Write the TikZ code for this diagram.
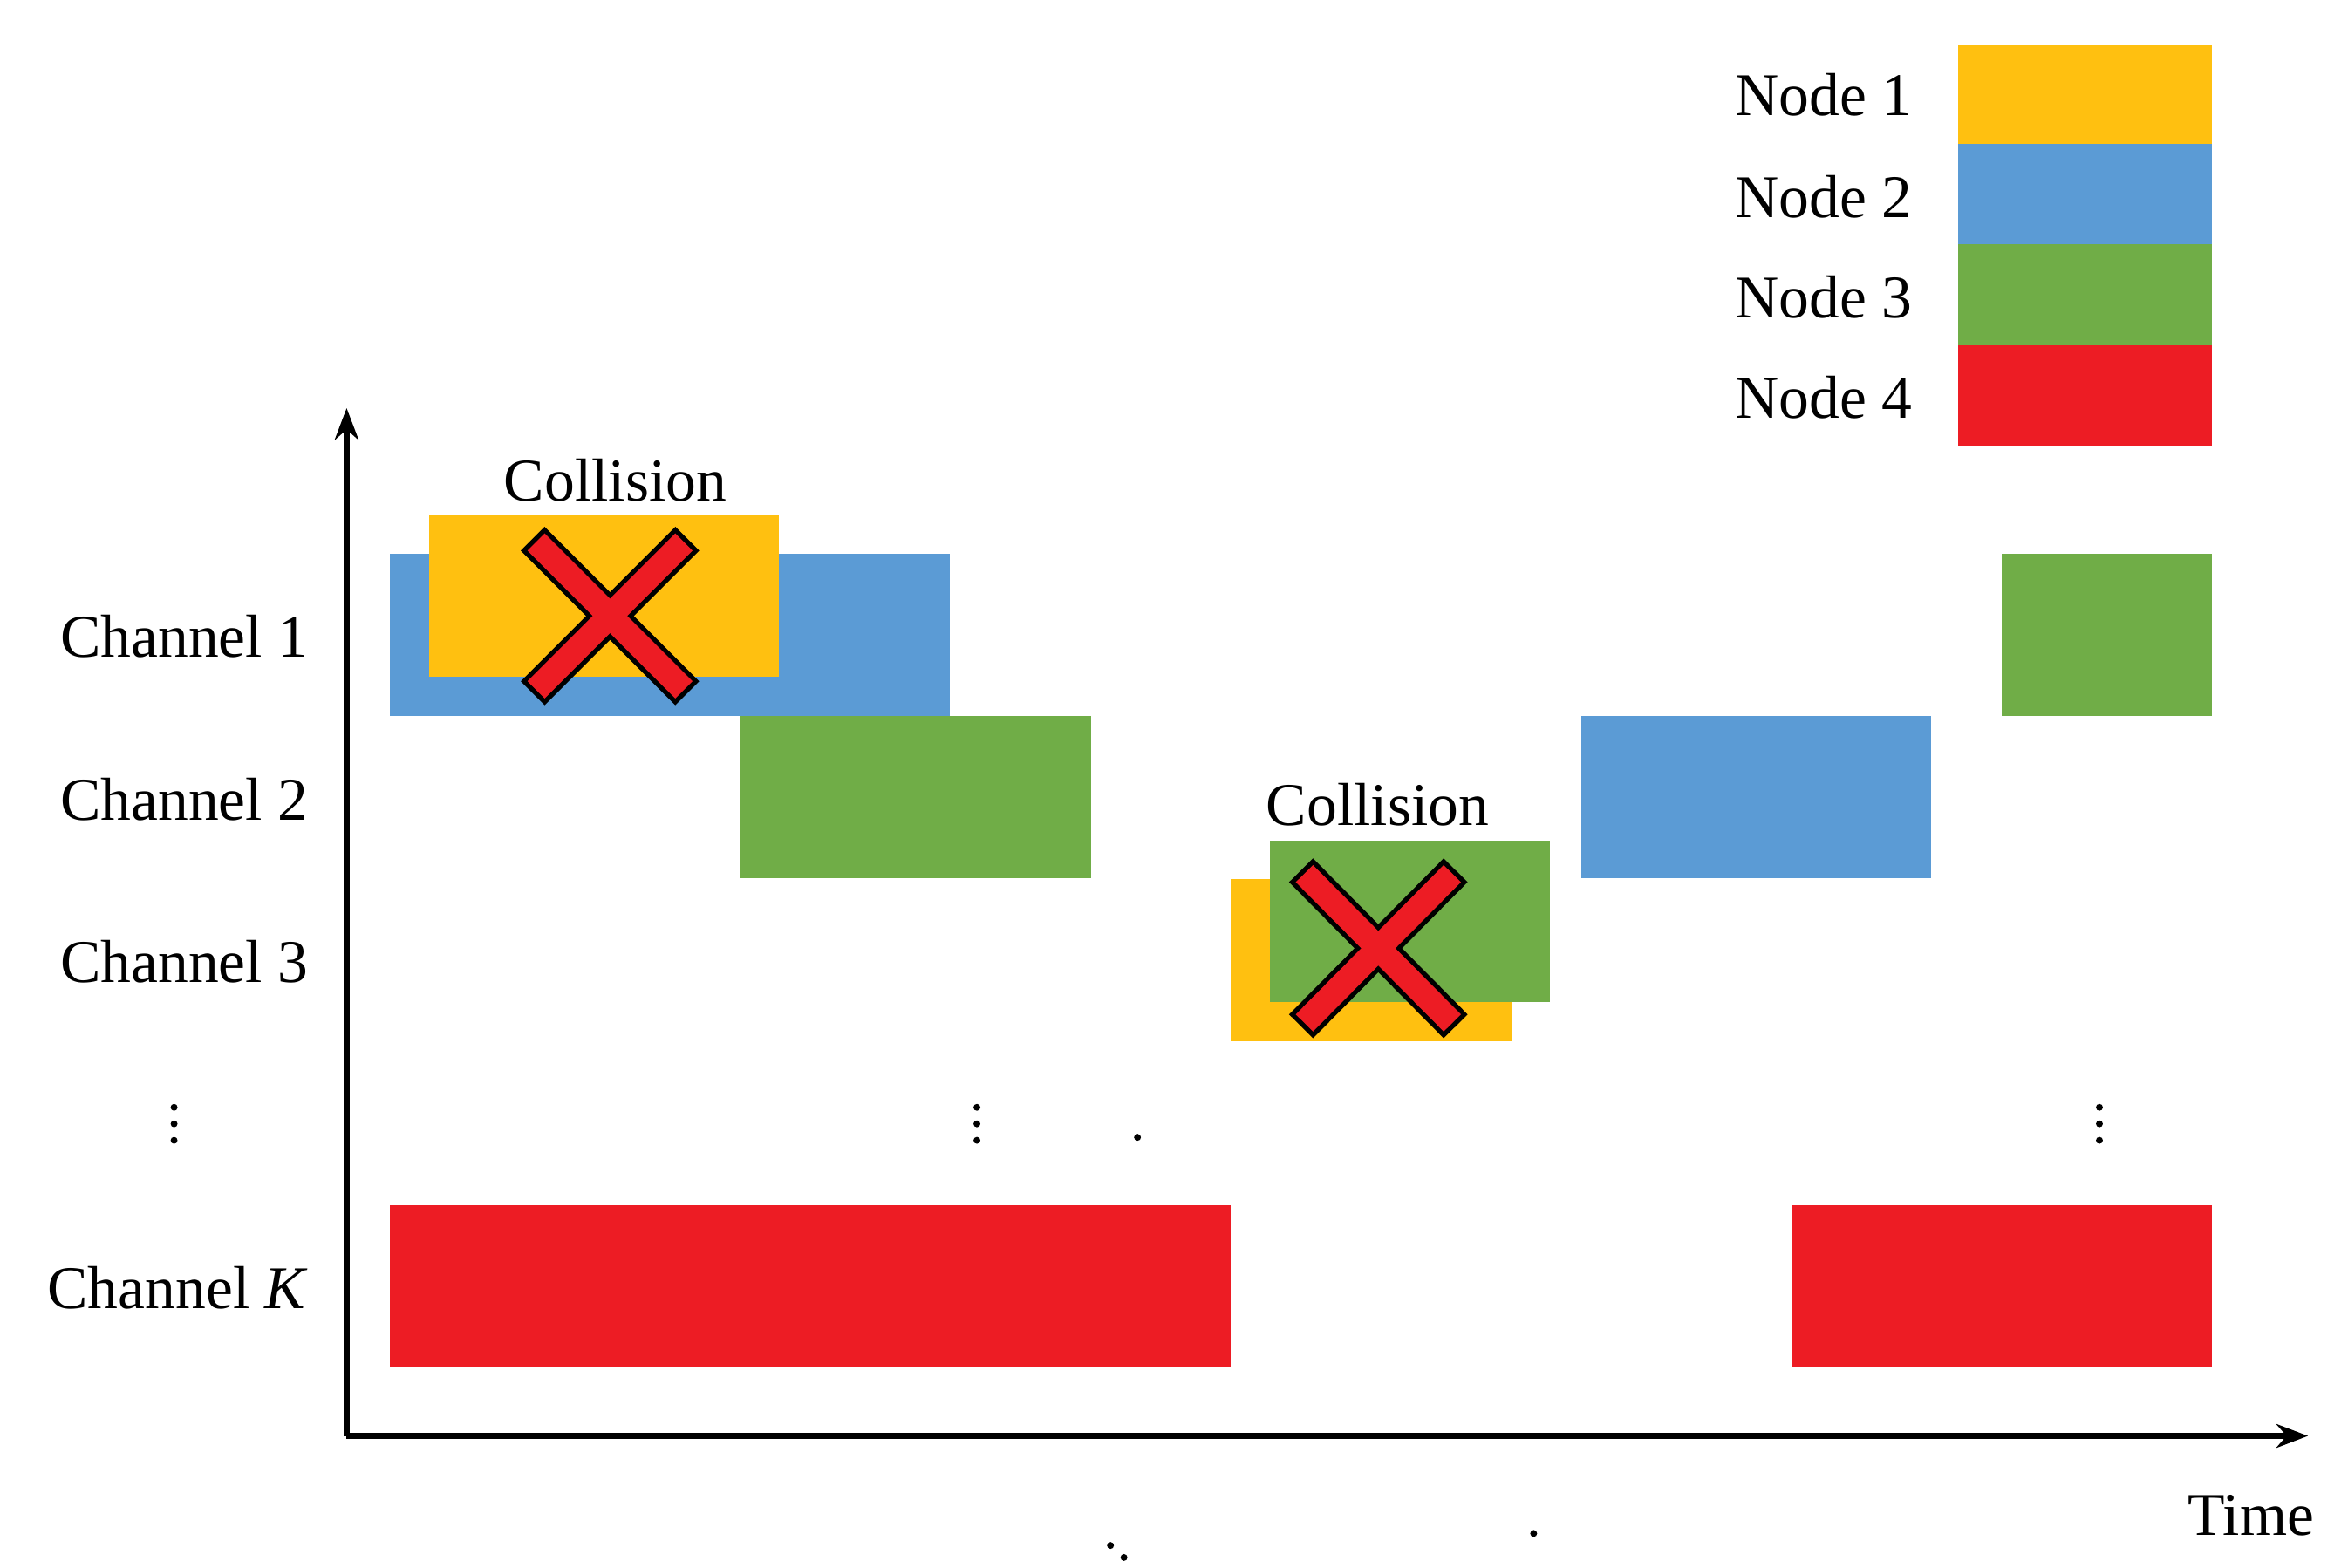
\documentclass[tikz,border=0pt]{standalone}
\usepackage{fontspec}
\setmainfont{Liberation Serif}
\usetikzlibrary{arrows.meta}
\definecolor{cY}{HTML}{FFC010}
\definecolor{cB}{HTML}{5B9BD5}
\definecolor{cG}{HTML}{70AD47}
\definecolor{cR}{HTML}{ED1C24}
\begin{document}
\begin{tikzpicture}[x=0.01cm,y=-0.01cm,
  lbl/.style={font=\fontsize{11.5pt}{13pt}\selectfont,inner sep=0pt},
  axis/.style={line width=1.2pt,-{Stealth[length=6pt,width=4.5pt]}}]
\useasboundingbox (0,0) rectangle (1560,1045);
% bars
\fill[cB] (260,369) rectangle (633,477);
\fill[cY] (286,343) rectangle (519,451);
\fill[cG] (493,477) rectangle (727,585);
\fill[cY] (820,586) rectangle (1007,694);
\fill[cG] (846,560) rectangle (1033,668);
\fill[cB] (1054,477) rectangle (1287,585);
\fill[cG] (1334,369) rectangle (1474,477);
\fill[cR] (260,803) rectangle (820,911);
\fill[cR] (1194,803) rectangle (1474,911);
% legend
\fill[cY] (1305,30) rectangle (1474,96);
\fill[cB] (1305,96) rectangle (1474,163);
\fill[cG] (1305,163) rectangle (1474,230);
\fill[cR] (1305,230) rectangle (1474,297);
\node[lbl,anchor=east] (n1) at (1275,63) {Node 1};
\node[lbl,anchor=east] (n2) at (1275,131) {Node 2};
\node[lbl,anchor=east] (n3) at (1275,198) {Node 3};
\node[lbl,anchor=east] (n4) at (1275,265) {Node 4};
% crosses
\foreach \a/\b/\c/\d in {355/359/458/462, 458/359/355/462, 867/580/970/684, 970/580/867/684}{
  \draw[line width=6.4pt,black] (\a,\b) -- (\c,\d);}
\foreach \a/\b/\c/\d in {355/359/458/462, 458/359/355/462, 867/580/970/684, 970/580/867/684}{
  \draw[line width=4.6pt,cR,shorten <=0.9pt,shorten >=0.9pt] (\a,\b) -- (\c,\d);}
% axes
\coordinate (o) at (231,957);
\coordinate (yt) at (231,272);
\coordinate (xt) at (1538,957);
\draw[axis] (o) -- (yt);
\draw[axis] (o) -- (xt);
% labels
\node[lbl,anchor=east] (c1) at (206,424) {Channel 1};
\node[lbl,anchor=east] (c2) at (206,533) {Channel 2};
\node[lbl,anchor=east] (c3) at (206,641) {Channel 3};
\node[lbl,anchor=east] (ck) at (206,858) {Channel \textit{K}};
\node[lbl] (col1) at (410,320) {Collision};
\node[lbl] (col2) at (918,536) {Collision};
\node[lbl] (tm) at (1500,1010) {Time};
% dots
\foreach \x in {116,651,1399}{
  \foreach \y in {738,749,760}{\fill (\x,\y) circle (2.3);}}
\foreach \x/\y in {1022,740/1030,749/1038,758}{\fill (\x,\y) circle (2.3);}
\end{tikzpicture}
\end{document}
